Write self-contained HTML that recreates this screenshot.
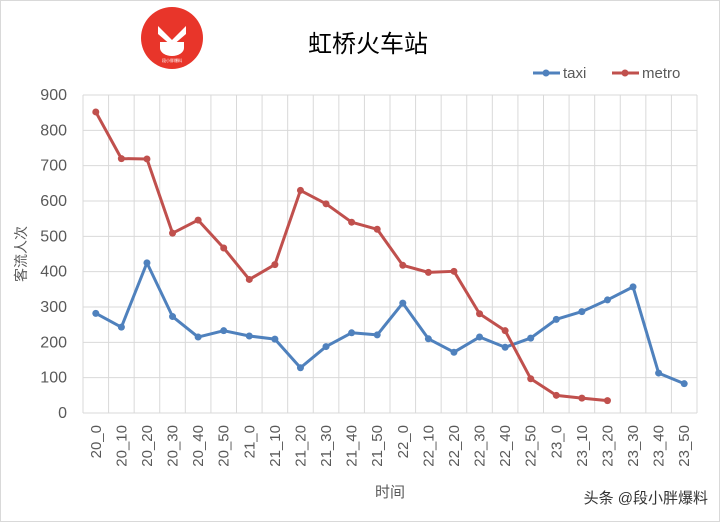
<!DOCTYPE html><html><head><meta charset="utf-8"><style>body{margin:0;background:#fff}svg{display:block;font-family:"Liberation Sans","Noto Sans CJK SC",sans-serif}</style></head><body>
<svg width="720" height="522" viewBox="0 0 720 522">
<rect x="0.5" y="0.5" width="719" height="521" fill="#fff" stroke="#d9d9d9"/>
<circle cx="172" cy="38" r="31" fill="#e8352a"/>
<path d="M158 26 L172 40 L186 26 L186 34 L172 46 L158 34Z" fill="#fff"/>
<path d="M160 42 h24 v6 a12 8 0 0 1 -24 0Z" fill="#fff"/>
<text x="172" y="62" font-size="4" fill="#fff" text-anchor="middle">段小胖爆料</text>
<text x="368" y="52" font-size="24" text-anchor="middle" fill="#000">虹桥火车站</text>
<g stroke-width="3"><line x1="533" y1="73" x2="560" y2="73" stroke="#4f81bd"/><circle cx="546" cy="73" r="3.5" fill="#4f81bd"/>
<line x1="612" y1="73" x2="639" y2="73" stroke="#c0504d"/><circle cx="625" cy="73" r="3.5" fill="#c0504d"/></g>
<text x="563" y="78" font-size="15" fill="#595959">taxi</text><text x="642" y="78" font-size="15" fill="#595959">metro</text>
<g id="grid" stroke="#d9d9d9" stroke-width="1"></g>
<g id="yl" font-size="16" fill="#595959" text-anchor="end"></g>
<g id="xl" font-size="15" fill="#595959"></g>
<text transform="translate(26,254) rotate(-90)" font-size="14" fill="#595959" text-anchor="middle">客流人次</text>
<text x="390" y="497" font-size="15" fill="#595959" text-anchor="middle">时间</text>
<g id="s"></g>
<text x="708" y="503" font-size="15" fill="#333" text-anchor="end">头条 @段小胖爆料</text>
</svg>
<script>
const ns="http://www.w3.org/2000/svg",L=83,R=697,Y0=413,k=(413-95)/900,W=(R-L)/24;
const g=document.getElementById('grid'),yl=document.getElementById('yl'),xl=document.getElementById('xl'),s=document.getElementById('s');
function el(t,a,p){const e=document.createElementNS(ns,t);for(const q in a)e.setAttribute(q,a[q]);p.appendChild(e);return e}
for(let v=0;v<=900;v+=100){const y=Y0-v*k;el('line',{x1:L,x2:R,y1:y,y2:y},g);el('text',{x:67,y:y+5},yl).textContent=v}
const labs=[];for(let h=20;h<=23;h++)for(let m=0;m<60;m+=10)labs.push(h+'_'+m);
for(let i=0;i<=24;i++){const x=L+i*W;el('line',{x1:x,x2:x,y1:95,y2:Y0},g)}
labs.forEach((l,i)=>{const x=L+W*(i+.5);el('text',{transform:`translate(${x+5},425) rotate(-90)`,'text-anchor':'end'},xl).textContent=l});
const taxi=[282,243,425,273,215,233,218,209,128,188,227,221,311,210,172,215,186,212,265,287,320,357,113,83];
const metro=[852,720,719,509,546,467,378,420,630,592,540,520,418,398,401,281,233,97,50,42,35];
[[taxi,'#4f81bd'],[metro,'#c0504d']].forEach(([d,c])=>{const pts=d.map((v,i)=>[L+W*(i+.5),Y0-v*k]);
el('polyline',{points:pts.map(p=>p.join(',')).join(' '),fill:'none',stroke:c,'stroke-width':3,'stroke-linejoin':'round'},s);
pts.forEach(p=>el('circle',{cx:p[0],cy:p[1],r:3.5,fill:c},s))});
</script></body></html>
